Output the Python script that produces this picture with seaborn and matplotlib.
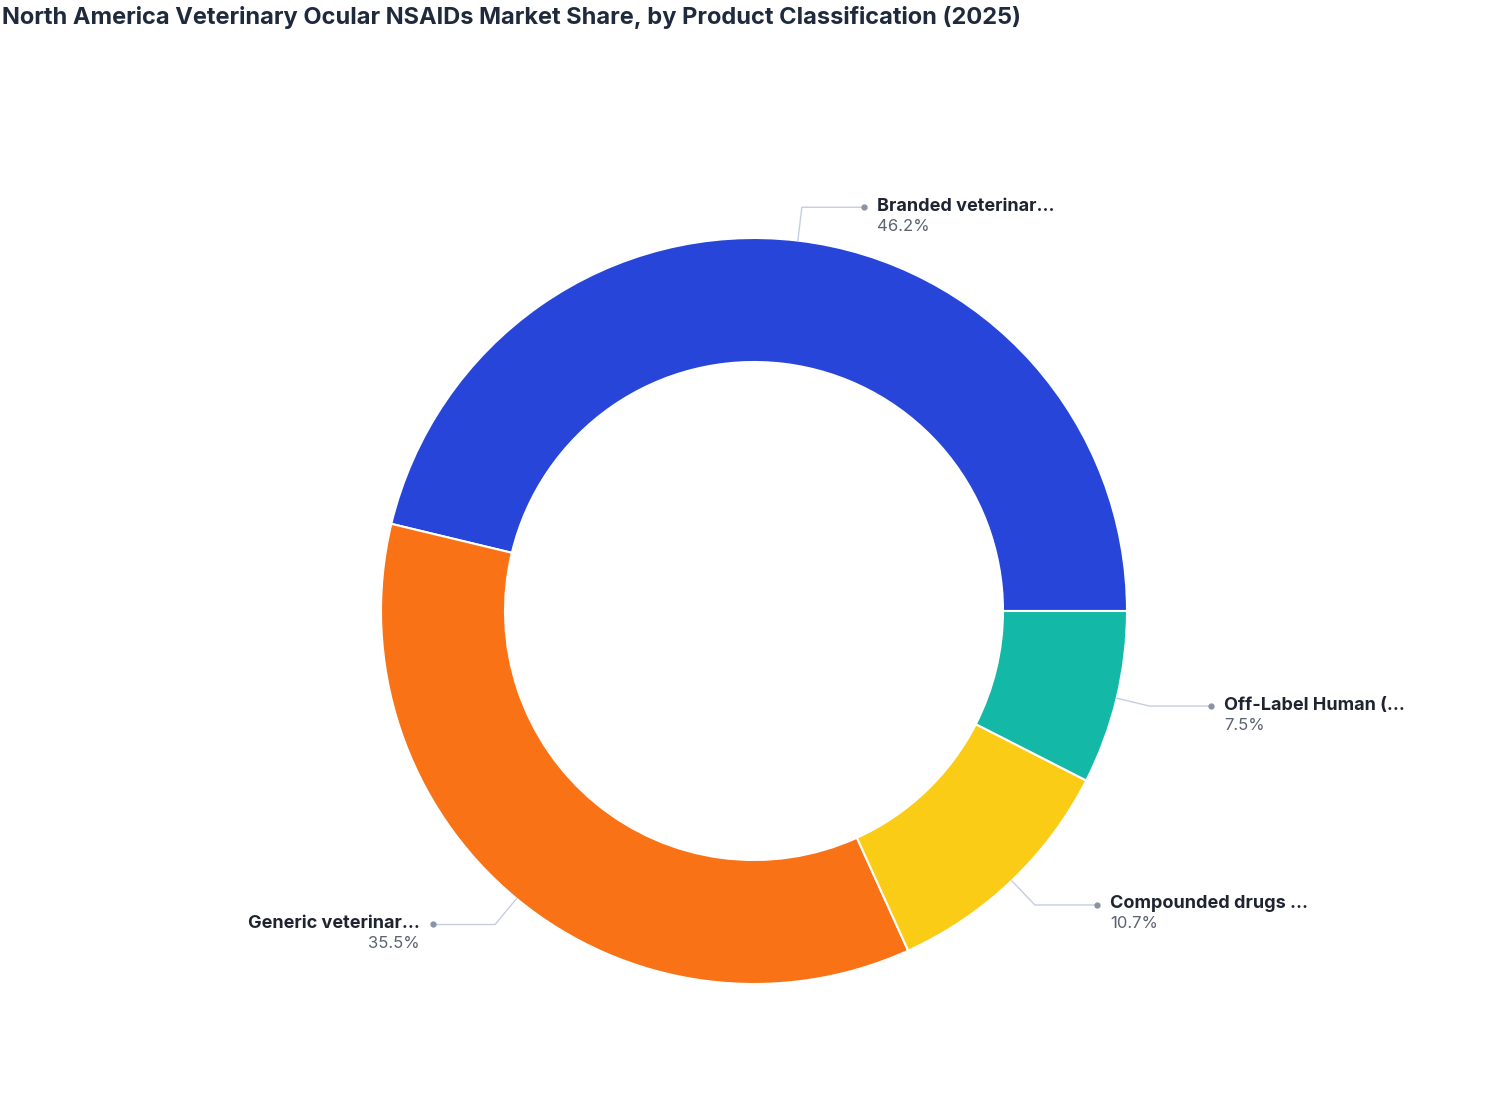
import numpy as np
import matplotlib.pyplot as plt
import seaborn as sns

sns.set_style("white")
plt.rcParams['font.family'] = ['Inter', 'DejaVu Sans']

labels = ["Branded veterinar...", "Generic veterinar...", "Compounded drugs ...", "Off-Label Human (..."]
shares = [46.2, 35.5, 10.7, 7.5]
colors = ["#2746D9", "#F97316", "#FACC15", "#14B8A6"]

fig = plt.figure(figsize=(15.08, 11.2), dpi=100)
ax = fig.add_axes([0, 0, 1, 1])
ax.set_xlim(0, 1508)
ax.set_ylim(0, 1120)
ax.axis("off")

cx, cy, r = 754, 509, 373
wedges, _ = ax.pie(shares, colors=colors, startangle=0, counterclock=True,
                   center=(cx, cy), radius=r, frame=True,
                   wedgeprops=dict(width=124, edgecolor="white", linewidth=1.5))
ax.set_xlim(0, 1508)
ax.set_ylim(0, 1120)
ax.axis("off")

for w, lab, s in zip(wedges, labels, shares):
    ang = np.deg2rad((w.theta1 + w.theta2) / 2)
    x0, y0 = cx + r * np.cos(ang), cy + r * np.sin(ang)
    x1, y1 = cx + 1.09 * r * np.cos(ang), cy + 1.09 * r * np.sin(ang)
    side = 1 if np.cos(ang) >= 0 else -1
    x2 = x1 + side * 62
    ax.plot([x0, x1, x2], [y0, y1, y1], color="#C5CDE0", lw=1)
    ax.plot(x2, y1, "o", color="#8A93A3", ms=3.5)
    ha = "left" if side > 0 else "right"
    tx = x2 + side * 13
    ax.text(tx, y1 + 1, lab, ha=ha, va="center", fontsize=13, fontweight="bold", color="#1F2430")
    ax.text(tx, y1 - 19, f"{s}%", ha=ha, va="center", fontsize=12, color="#5B6270")

fig.text(0.001, 0.984, "North America Veterinary Ocular NSAIDs Market Share, by Product Classification (2025)",
         ha="left", va="center", fontsize=17, fontweight="bold", color="#1F2A3C")

fig.savefig("out.png", dpi=100)
